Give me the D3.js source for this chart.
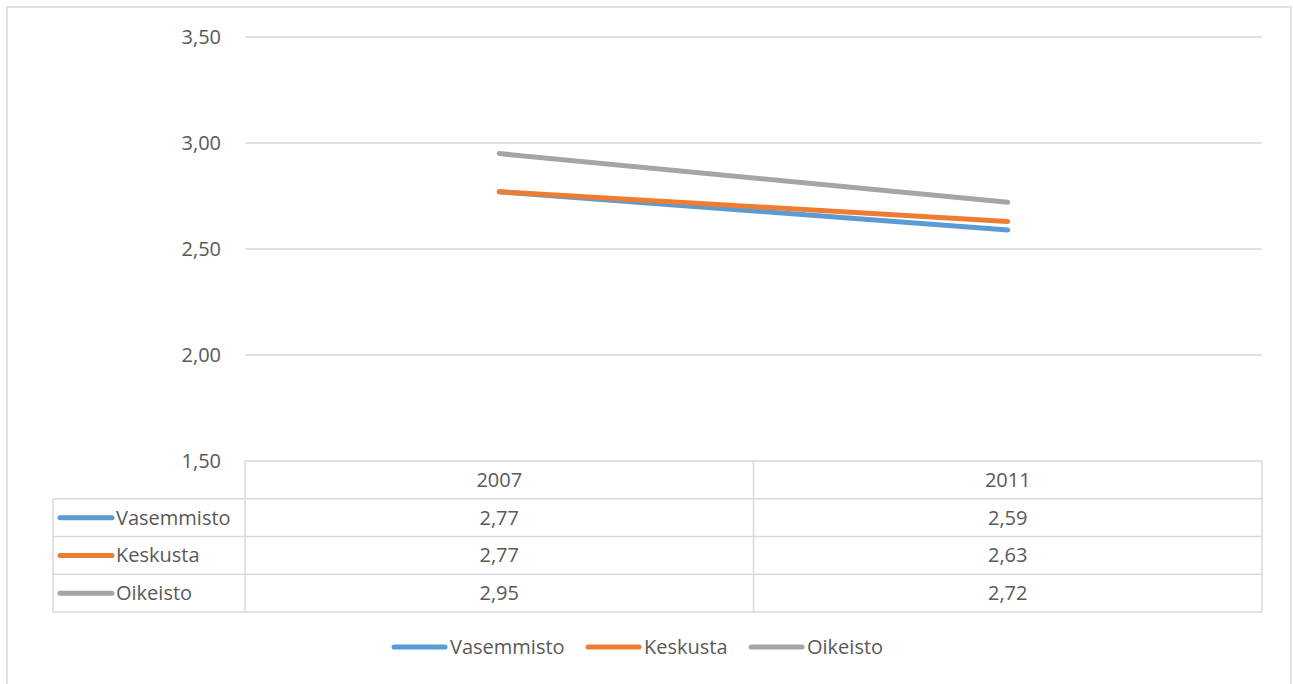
<!DOCTYPE html>
<meta charset="utf-8">
<style>
body { margin: 0; background: #fff; }
svg { display: block; font-family: "Open Sans", sans-serif; }
text { fill: #595959; }
</style>
<body>
<script src="https://cdn.jsdelivr.net/npm/d3@7"></script>
<script>
var years = ['2007', '2011']
var seriesNames = ['Vasemmisto', 'Keskusta', 'Oikeisto']
var vasemmisto = [2.77, 2.59]
var keskusta = [2.77, 2.63]
var oikeisto = [2.95, 2.72]
var yTicks = [1.5, 2.0, 2.5, 3.0, 3.5]

var colors = ['#5b9bd5', '#ed7d31', '#a5a5a5']
var seriesValues = [vasemmisto, keskusta, oikeisto]

var width = 1293
var height = 684
var grid = '#d9d9d9'
var fontSize = 20

var x = d3.scaleBand().domain(years).range([245, 1262])
var y = d3.scaleLinear().domain([1.5, 3.5]).range([461, 37])

var fmt = function (v) { return d3.format('.2f')(v).replace('.', ',') }

var svg = d3.select('body').append('svg')
    .attr('width', width)
    .attr('height', height)

// outer chart border (bottom falls outside the picture)
svg.append('path')
    .attr('d', 'M7,700V7H1291V700')
    .attr('fill', 'none')
    .attr('stroke', grid)
    .attr('stroke-width', 1.5)

// gridlines
svg.append('g').selectAll('line')
    .data(yTicks.slice(1))
    .enter().append('line')
    .attr('x1', x.range()[0]).attr('x2', x.range()[1])
    .attr('y1', function (d) { return y(d) }).attr('y2', function (d) { return y(d) })
    .attr('stroke', grid)
    .attr('stroke-width', 1.3)

var yAxis = svg.append('g')
    .attr('transform', 'translate(245,0)')
    .call(d3.axisLeft(y).tickValues(yTicks).tickFormat(fmt).tickSize(0).tickPadding(24))
yAxis.select('.domain').remove()
yAxis.selectAll('text')
    .style('font-size', fontSize + 'px')
    .style('font-family', '"Open Sans", sans-serif')
    .attr('fill', '#595959')

// lines
var line = d3.line()
    .x(function (d, i) { return x(years[i]) + x.bandwidth() / 2 })
    .y(function (d) { return y(d) })

svg.append('g').selectAll('path')
    .data(seriesValues)
    .enter().append('path')
    .attr('d', line)
    .attr('fill', 'none')
    .attr('stroke', function (d, i) { return colors[i] })
    .attr('stroke-width', 5)
    .attr('stroke-linecap', 'round')

// data table
var rowH = 37.75
var tableTop = y(1.5)
var tableLeft = 53
var rows = svg.append('g')

// header row
rows.selectAll('.hdr')
    .data(years)
    .enter().append('text')
    .attr('class', 'hdr')
    .attr('x', function (d) { return x(d) + x.bandwidth() / 2 })
    .attr('y', tableTop + rowH / 2)
    .attr('dy', '0.35em')
    .attr('text-anchor', 'middle')
    .style('font-size', fontSize + 'px')
    .text(function (d) { return d })

seriesNames.forEach(function (name, si) {
    var cy = tableTop + rowH * (si + 1) + rowH / 2
    rows.append('line')
        .attr('x1', 60).attr('x2', 112)
        .attr('y1', cy).attr('y2', cy)
        .attr('stroke', colors[si])
        .attr('stroke-width', 5)
        .attr('stroke-linecap', 'round')
    rows.append('text')
        .attr('x', 116)
        .attr('y', cy)
        .attr('dy', '0.35em')
        .style('font-size', fontSize + 'px')
        .text(name)
    rows.selectAll('.v' + si)
        .data(seriesValues[si])
        .enter().append('text')
        .attr('x', function (d, i) { return x(years[i]) + x.bandwidth() / 2 })
        .attr('y', cy)
        .attr('dy', '0.35em')
        .attr('text-anchor', 'middle')
        .style('font-size', fontSize + 'px')
        .text(fmt)
})

// table grid
var tg = svg.append('g')
    .attr('stroke', grid)
    .attr('stroke-width', 1.5)
    .attr('fill', 'none')
var tableBottom = tableTop + rowH * 4
tg.append('line').attr('x1', x.range()[0]).attr('x2', x.range()[1]).attr('y1', tableTop).attr('y2', tableTop)
d3.range(1, 5).forEach(function (r) {
    tg.append('line')
        .attr('x1', tableLeft).attr('x2', x.range()[1])
        .attr('y1', tableTop + rowH * r).attr('y2', tableTop + rowH * r)
})
tg.append('line').attr('x1', tableLeft).attr('x2', tableLeft).attr('y1', tableTop + rowH).attr('y2', tableBottom)
years.concat(['end']).forEach(function (d, i) {
    var xx = i < years.length ? x(d) : x.range()[1]
    tg.append('line').attr('x1', xx).attr('x2', xx).attr('y1', tableTop).attr('y2', tableBottom)
})

// legend
var legendX = [392, 586, 749]
var legend = svg.append('g').selectAll('g')
    .data(seriesNames)
    .enter().append('g')
    .attr('transform', function (d, i) { return 'translate(' + legendX[i] + ',647)' })
legend.append('line')
    .attr('x1', 2).attr('x2', 53)
    .attr('stroke', function (d, i) { return colors[i] })
    .attr('stroke-width', 5)
    .attr('stroke-linecap', 'round')
legend.append('text')
    .attr('x', 58)
    .attr('dy', '0.35em')
    .style('font-size', fontSize + 'px')
    .text(function (d) { return d })
</script>
</body>
